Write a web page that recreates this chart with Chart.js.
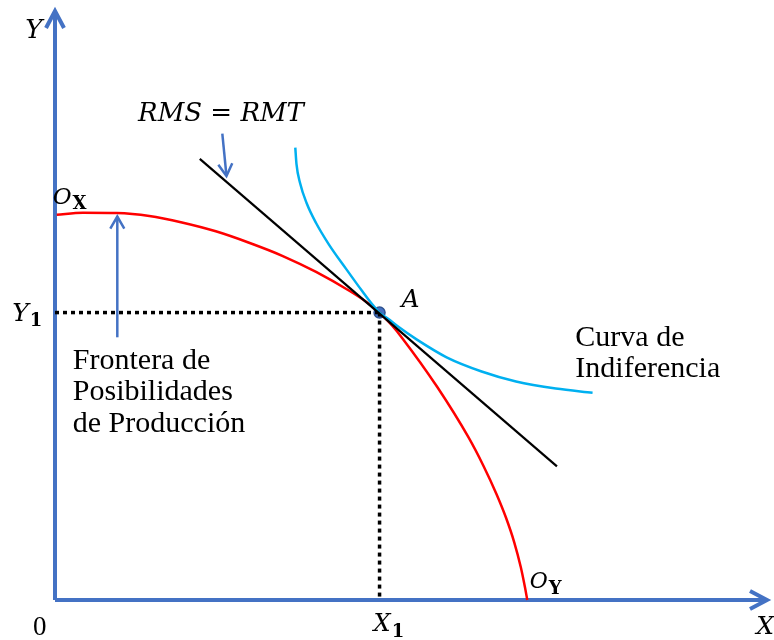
<!DOCTYPE html>
<html>
<head>
<meta charset="utf-8">
<script src="https://cdn.jsdelivr.net/npm/chart.js@4.4.0/dist/chart.umd.min.js"></script>
<style>
  html, body { margin: 0; padding: 0; background: #fff; }
  #wrap { width: 774px; height: 640px; position: relative; }
</style>
</head>
<body>
<div id="wrap"><canvas id="chart"></canvas></div>
<script>
// frontera de posibilidades (rojo)
const ppfX = [0.03, 0.47, 1.04, 1.59, 2.14, 2.71, 3.26, 3.84, 4.40, 4.96, 5.22, 5.47, 5.68, 5.85, 6.44, 6.97, 7.22, 7.44, 7.60, 7.74, 7.85, 7.92, 7.96];
const ppfY = [6.54, 6.575, 6.57, 6.52, 6.41, 6.26, 6.07, 5.84, 5.57, 5.25, 5.08, 4.88, 4.66, 4.45, 3.62, 2.76, 2.28, 1.80, 1.40, 0.98, 0.56, 0.22, 0];

// curva de indiferencia (celeste)
const icX = [4.05, 4.07, 4.13, 4.24, 4.40, 4.62, 4.90, 5.18, 5.33, 5.47, 5.62, 5.77, 6.10, 6.60, 7.19, 7.77, 8.44, 9.06];
const icY = [7.68, 7.40, 7.08, 6.74, 6.40, 6.03, 5.63, 5.24, 5.04, 4.88, 4.77, 4.65, 4.42, 4.12, 3.88, 3.71, 3.59, 3.52];

// recta tangente RMS = RMT
const tanX = [2.44, 8.46];
const tanY = [7.49, 2.27];

// punto A
const aX = 5.47;
const aY = 4.88;

// flechas de las etiquetas
const rmsArrowX = [2.82, 2.89];
const rmsArrowY = [7.92, 7.20];
const fppArrowX = [1.05, 1.05];
const fppArrowY = [4.46, 6.51];

const xMax = 12;
const yMax = 10;

const blue = '#4472C4';

function pts(xs, ys) {
  return xs.map((x, i) => ({ x: x, y: ys[i] }));
}

// textos (posicion en unidades de los ejes)
const textLayout = [
  { x: -0.50, y: 9.54, parts: [{ t: 'Y', f: 'italic 26px "DejaVu Serif"' }] },
  { x: 1.40, y: 8.14, parts: [{ t: 'RMS = RMT', f: 'italic 26px "DejaVu Serif"' }] },
  { x: -0.04, y: 6.73, parts: [{ t: 'O', f: 'italic 23px "DejaVu Serif"' }, { t: 'X', f: 'bold 18px "DejaVu Serif"', dy: 5 }] },
  { x: 5.84, y: 4.97, parts: [{ t: 'A', f: 'italic 25px "DejaVu Serif"' }] },
  { x: -0.72, y: 4.74, parts: [{ t: 'Y', f: 'italic 25px "DejaVu Serif"' }, { t: '1', f: 'bold 18px "DejaVu Serif"', dy: 5 }] },
  { x: 0.30, y: 3.93, parts: [{ t: 'Frontera de', f: '30px "Liberation Serif"' }] },
  { x: 0.30, y: 3.39, parts: [{ t: 'Posibilidades', f: '30px "Liberation Serif"' }] },
  { x: 0.30, y: 2.85, parts: [{ t: 'de Producción', f: '30px "Liberation Serif"' }] },
  { x: 8.77, y: 4.32, parts: [{ t: 'Curva de', f: '30px "Liberation Serif"' }] },
  { x: 8.77, y: 3.78, parts: [{ t: 'Indiferencia', f: '30px "Liberation Serif"' }] },
  { x: 5.37, y: -0.52, parts: [{ t: 'X', f: 'italic 24px "DejaVu Serif"' }, { t: '1', f: 'bold 18px "DejaVu Serif"', dy: 6 }] },
  { x: 8.00, y: 0.20, parts: [{ t: 'O', f: 'italic 22px "DejaVu Serif"' }, { t: 'Y', f: 'bold 18px "DejaVu Serif"', dy: 6 }] },
  { x: 11.82, y: -0.58, parts: [{ t: 'X', f: 'italic 25px "DejaVu Serif"' }] },
  { x: -0.37, y: -0.59, parts: [{ t: '0', f: '27px "Liberation Serif"' }] }
];

// dibuja puntas de flecha al final de los datasets que tienen "arrow"
const arrowPlugin = {
  id: 'arrows',
  afterDatasetsDraw(chart) {
    const ctx = chart.ctx;
    chart.data.datasets.forEach((ds, i) => {
      if (!ds.arrow) return;
      const meta = chart.getDatasetMeta(i);
      const n = meta.data.length;
      const p1 = meta.data[n - 2], p2 = meta.data[n - 1];
      const ang = Math.atan2(p2.y - p1.y, p2.x - p1.x);
      const L = ds.arrow.len, W = ds.arrow.half;
      ctx.save();
      ctx.strokeStyle = ds.borderColor;
      ctx.lineWidth = ds.arrow.lw;
      ctx.lineJoin = 'miter';
      ctx.lineCap = 'butt';
      ctx.beginPath();
      ctx.moveTo(p2.x - L * Math.cos(ang) + W * Math.sin(ang), p2.y - L * Math.sin(ang) - W * Math.cos(ang));
      ctx.lineTo(p2.x, p2.y);
      ctx.lineTo(p2.x - L * Math.cos(ang) - W * Math.sin(ang), p2.y - L * Math.sin(ang) + W * Math.cos(ang));
      ctx.stroke();
      ctx.restore();
    });
  }
};

const textPlugin = {
  id: 'texts',
  afterDraw(chart) {
    const ctx = chart.ctx;
    const xs = chart.scales.x, ys = chart.scales.y;
    ctx.save();
    ctx.fillStyle = '#000';
    ctx.textBaseline = 'alphabetic';
    ctx.textAlign = 'left';
    textLayout.forEach(lb => {
      let px = xs.getPixelForValue(lb.x);
      const py = ys.getPixelForValue(lb.y);
      lb.parts.forEach(p => {
        ctx.font = p.f;
        ctx.fillText(p.t, px, py + (p.dy || 0));
        px += ctx.measureText(p.t).width + 1;
      });
    });
    ctx.restore();
  }
};

new Chart(document.getElementById('chart'), {
  type: 'scatter',
  data: {
    datasets: [
      { data: pts(rmsArrowX, rmsArrowY), showLine: true, borderColor: blue, borderWidth: 2.5, pointRadius: 0, clip: false, arrow: { len: 12, half: 7, lw: 2.5 } },
      { data: pts(fppArrowX, fppArrowY), showLine: true, borderColor: blue, borderWidth: 2.5, pointRadius: 0, clip: false, arrow: { len: 12, half: 7, lw: 2.5 } },
      { data: pts(tanX, tanY), showLine: true, borderColor: '#000', borderWidth: 2.2, pointRadius: 0 },
      { data: pts(icX, icY), showLine: true, borderColor: '#00B0F0', borderWidth: 2.5, pointRadius: 0, cubicInterpolationMode: 'monotone' },
      { data: pts(ppfX, ppfY), showLine: true, borderColor: '#FF0000', borderWidth: 2.5, pointRadius: 0, cubicInterpolationMode: 'monotone', clip: false },
      { data: [{ x: 0, y: aY }, { x: aX, y: aY }], showLine: true, borderColor: '#000', borderWidth: 3.5, borderDash: [4, 4], pointRadius: 0 },
      { data: [{ x: aX, y: aY }, { x: aX, y: 0 }], showLine: true, borderColor: '#000', borderWidth: 3.5, borderDash: [4, 4], pointRadius: 0 },
      { data: [{ x: 0, y: 0 }, { x: xMax, y: 0 }], showLine: true, borderColor: blue, borderWidth: 4, pointRadius: 0, clip: false, arrow: { len: 17, half: 9, lw: 4 } },
      { data: [{ x: 0, y: 0 }, { x: 0, y: yMax }], showLine: true, borderColor: blue, borderWidth: 4, pointRadius: 0, clip: false, arrow: { len: 17, half: 9, lw: 4 } },
      { data: [{ x: aX, y: aY }], pointRadius: 5.5, pointBackgroundColor: '#4472C4', pointBorderColor: '#2F528F', pointBorderWidth: 1.5 }
    ]
  },
  options: {
    responsive: true,
    maintainAspectRatio: false,
    animation: false,
    layout: { padding: { left: 55, right: 2, top: 11, bottom: 40 } },
    scales: {
      x: { type: 'linear', min: 0, max: xMax, display: false },
      y: { type: 'linear', min: 0, max: yMax, display: false }
    },
    plugins: {
      legend: { display: false },
      tooltip: { enabled: false }
    }
  },
  plugins: [arrowPlugin, textPlugin]
});
</script>
</body>
</html>
